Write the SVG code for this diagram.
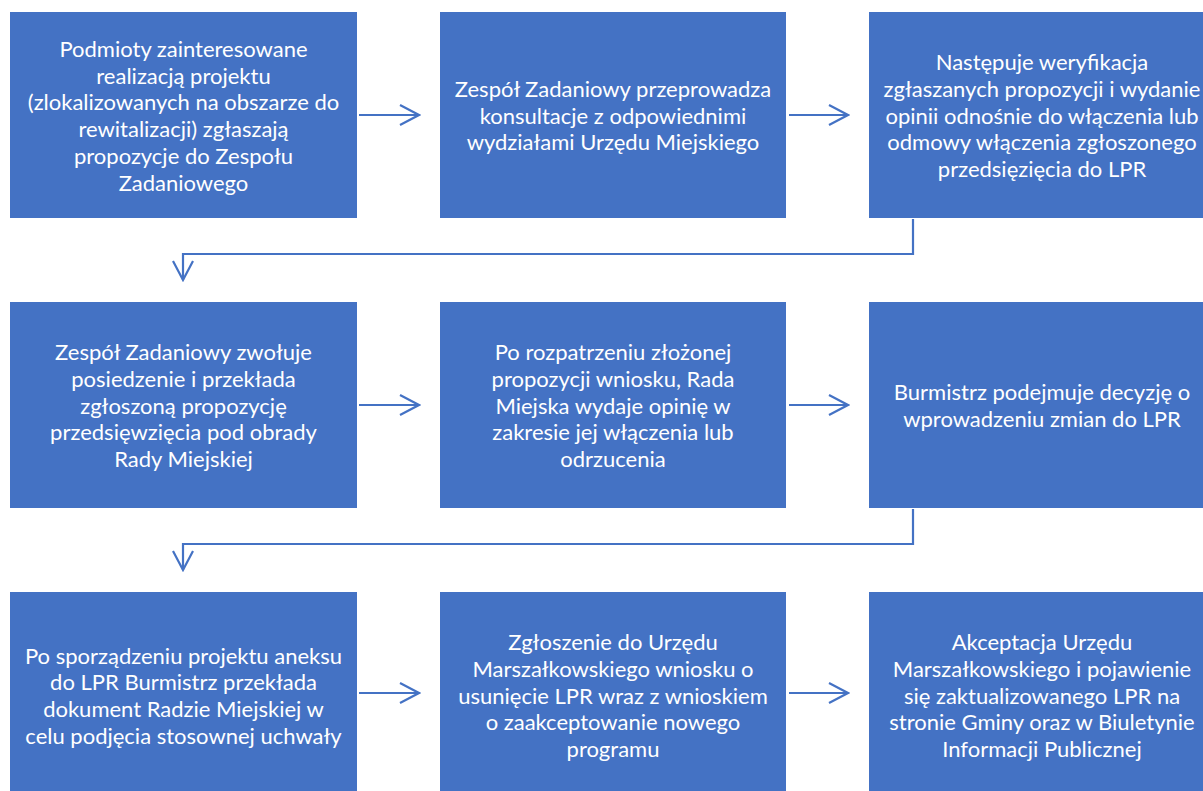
<svg xmlns="http://www.w3.org/2000/svg" width="1203" height="791" viewBox="0 0 1203 791">
<style>
.box{fill:#4472C4;}
.t{font-family:Lato,"Liberation Sans",sans-serif;font-size:22px;fill:#ffffff;text-anchor:middle;}
.c{fill:none;stroke:#4472C4;stroke-width:2.2;}
</style>
<defs>
<marker id="ah" markerUnits="userSpaceOnUse" viewBox="0 0 22 22" refX="20" refY="11" markerWidth="22" markerHeight="22" orient="auto">
<path d="M1,1 L20,11 L1,21" fill="none" stroke="#4472C4" stroke-width="2.2"/>
</marker>
</defs>
<rect width="1203" height="791" fill="#ffffff"/>
<g id="n1"><rect class="box" x="10" y="12" width="347" height="206"/>
<text class="t" x="183.5"><tspan x="183.5" y="57">Podmioty zainteresowane</tspan><tspan x="183.5" y="83.7">realizacją projektu</tspan><tspan x="183.5" y="110.4">(zlokalizowanych na obszarze do</tspan><tspan x="183.5" y="137">rewitalizacji) zgłaszają</tspan><tspan x="183.5" y="163.8">propozycje do Zespołu</tspan><tspan x="183.5" y="190.5">Zadaniowego</tspan></text></g>
<g id="n2"><rect class="box" x="440" y="12" width="346" height="206"/>
<text class="t"><tspan x="613" y="97">Zespół Zadaniowy przeprowadza</tspan><tspan x="613" y="123.7">konsultacje z odpowiednimi</tspan><tspan x="613" y="150.4">wydziałami Urzędu Miejskiego</tspan></text></g>
<g id="n3"><rect class="box" x="869" y="12" width="347" height="206"/>
<text class="t"><tspan x="1042" y="70.3">Następuje weryfikacja</tspan><tspan x="1042" y="97">zgłaszanych propozycji i wydanie</tspan><tspan x="1042" y="123.7">opinii odnośnie do włączenia lub</tspan><tspan x="1042" y="150.4">odmowy włączenia zgłoszonego</tspan><tspan x="1042" y="177">przedsięzięcia do LPR</tspan></text></g>
<g id="n4"><rect class="box" x="10" y="302" width="347" height="206"/>
<text class="t"><tspan x="183.5" y="360.3">Zespół Zadaniowy zwołuje</tspan><tspan x="183.5" y="387">posiedzenie i przekłada</tspan><tspan x="183.5" y="413.7">zgłoszoną propozycję</tspan><tspan x="183.5" y="440.4">przedsięwzięcia pod obrady</tspan><tspan x="183.5" y="467">Rady Miejskiej</tspan></text></g>
<g id="n5"><rect class="box" x="440" y="302" width="346" height="206"/>
<text class="t"><tspan x="613" y="360.3">Po rozpatrzeniu złożonej</tspan><tspan x="613" y="387">propozycji wniosku, Rada</tspan><tspan x="613" y="413.7">Miejska wydaje opinię w</tspan><tspan x="613" y="440.4">zakresie jej włączenia lub</tspan><tspan x="613" y="467">odrzucenia</tspan></text></g>
<g id="n6"><rect class="box" x="869" y="302" width="347" height="206"/>
<text class="t"><tspan x="1042" y="400.4">Burmistrz podejmuje decyzję o</tspan><tspan x="1042" y="427">wprowadzeniu zmian do LPR</tspan></text></g>
<g id="n7"><rect class="box" x="10" y="592" width="347" height="206"/>
<text class="t"><tspan x="183.5" y="663.7">Po sporządzeniu projektu aneksu</tspan><tspan x="183.5" y="690.4">do LPR Burmistrz przekłada</tspan><tspan x="183.5" y="717">dokument Radzie Miejskiej w</tspan><tspan x="183.5" y="743.7">celu podjęcia stosownej uchwały</tspan></text></g>
<g id="n8"><rect class="box" x="440" y="592" width="346" height="206"/>
<text class="t"><tspan x="613" y="650.3">Zgłoszenie do Urzędu</tspan><tspan x="613" y="677">Marszałkowskiego wniosku o</tspan><tspan x="613" y="703.7">usunięcie LPR wraz z wnioskiem</tspan><tspan x="613" y="730.4">o zaakceptowanie nowego</tspan><tspan x="613" y="757">programu</tspan></text></g>
<g id="n9"><rect class="box" x="869" y="592" width="347" height="206"/>
<text class="t"><tspan x="1042" y="650.3">Akceptacja Urzędu</tspan><tspan x="1042" y="677">Marszałkowskiego i pojawienie</tspan><tspan x="1042" y="703.7">się zaktualizowanego LPR na</tspan><tspan x="1042" y="730.4">stronie Gminy oraz w Biuletynie</tspan><tspan x="1042" y="757">Informacji Publicznej</tspan></text></g>
<g id="connectors">
<path class="c" d="M359,115 H419" marker-end="url(#ah)"/>
<path class="c" d="M789,115 H848" marker-end="url(#ah)"/>
<path class="c" d="M913,219 V254 H183 V280" marker-end="url(#ah)"/>
<path class="c" d="M359,405 H419" marker-end="url(#ah)"/>
<path class="c" d="M789,405 H848" marker-end="url(#ah)"/>
<path class="c" d="M913,509 V544 H183 V570" marker-end="url(#ah)"/>
<path class="c" d="M359,693 H419" marker-end="url(#ah)"/>
<path class="c" d="M789,693 H848" marker-end="url(#ah)"/>
</g>
</svg>
